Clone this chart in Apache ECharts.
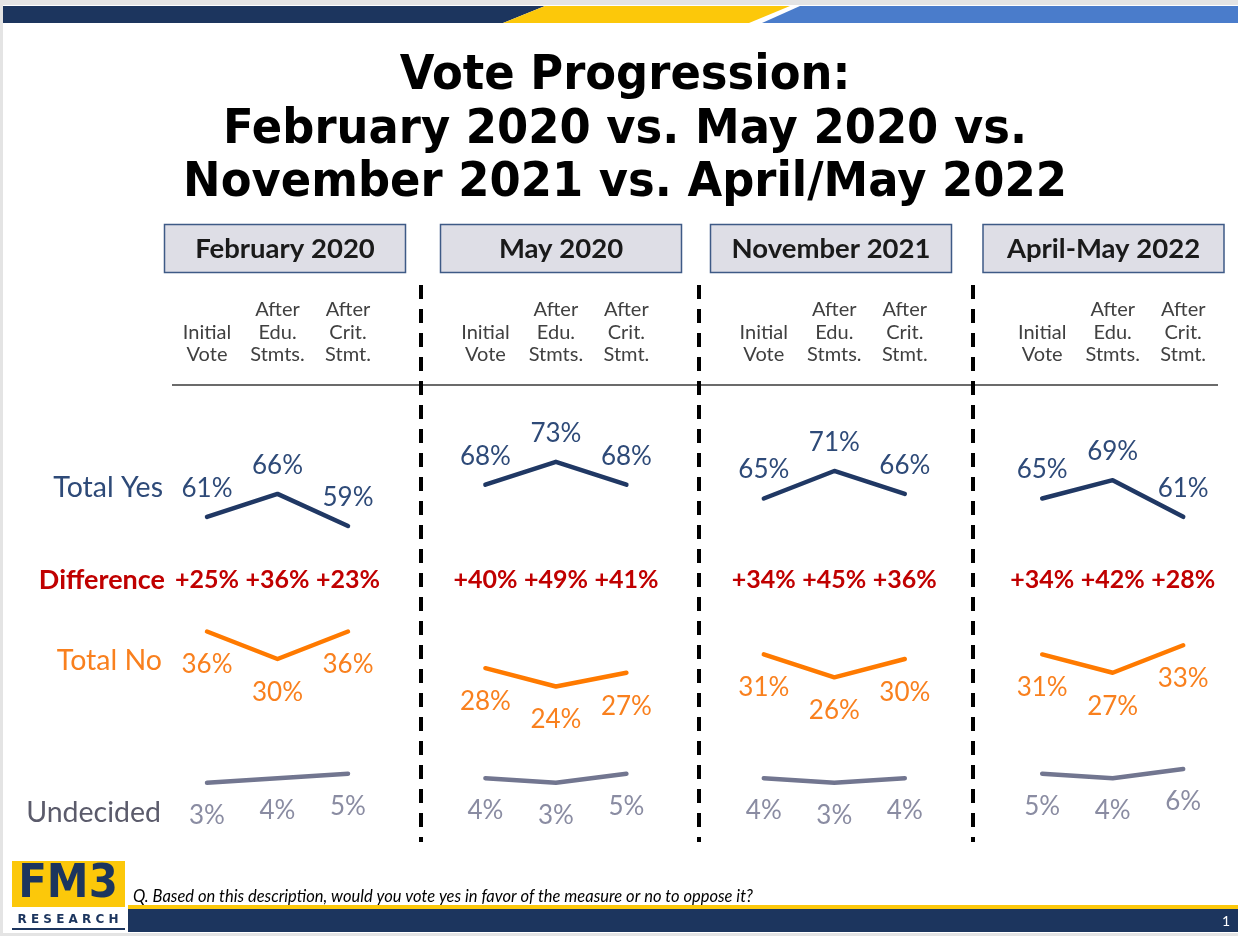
<!DOCTYPE html>
<html><head><meta charset="utf-8">
<script src="https://cdn.jsdelivr.net/npm/echarts@6/dist/echarts.min.js"></script>
<style>html,body{margin:0;padding:0;background:#e4e4e4}#c{width:1238px;height:936px}</style>
</head><body><div id="c"></div>
<script>
// ---------------- DATA ----------------
const titleLines = ['Vote Progression:', 'February 2020 vs. May 2020 vs.', 'November 2021 vs. April/May 2022'];
const periods = ['February 2020', 'May 2020', 'November 2021', 'April-May 2022'];
const stages = ['Initial\nVote', 'After\nEdu.\nStmts.', 'After\nCrit.\nStmt.'];
const rowLabels = ['Total Yes', 'Difference', 'Total No', 'Undecided'];
const yesValues = [[61, 66, 59], [68, 73, 68], [65, 71, 66], [65, 69, 61]];
const noValues = [[36, 30, 36], [28, 24, 27], [31, 26, 30], [31, 27, 33]];
const undecidedValues = [[3, 4, 5], [4, 3, 5], [4, 3, 4], [5, 4, 6]];
const differenceValues = [[25, 36, 23], [40, 49, 41], [34, 45, 36], [34, 42, 28]];
const questionText = 'Q. Based on this description, would you vote yes in favor of the measure or no to oppose it?';
const pageNumber = '1';

// ---------------- LAYOUT / STYLE ----------------
const PANEL_X0 = 171.75, PANEL_STEP = 278.4, PANEL_W = 211.5;
const GRID_TOP = 429.7, GRID_H = 366.9;
const DIFF_Y = 580;
const NAVY = '#1C355E';
const YES_LINE = '#203864', YES_TEXT = '#2E4A78';
const NO_LINE = '#FF7A00', NO_TEXT = '#F9801E';
const UND_LINE = '#727690', UND_TEXT = '#8A8CA2';
const DIFF_COLOR = '#C00000';
const FONT = 'Lato';

const chart = echarts.init(document.getElementById('c'), null, {renderer: 'canvas'});

const grids = periods.map((p, i) => ({left: PANEL_X0 + PANEL_STEP * i, top: GRID_TOP, width: PANEL_W, height: GRID_H}));
const xAxes = periods.map((p, i) => ({
  type: 'category', gridIndex: i, data: stages, position: 'top', boundaryGap: true,
  axisLine: {show: false}, axisTick: {show: false}, splitLine: {show: false},
  axisLabel: {interval: 0, margin: 63.5, fontFamily: FONT, fontSize: 20, color: '#404040', lineHeight: 22.5, verticalAlign: 'bottom', align: 'center'}
}));
const yAxes = periods.map((p, i) => ({type: 'value', gridIndex: i, min: 0, max: 80, show: false}));

function lineSeries(i, data, lineColor, textColor, pos, dist) {
  return {
    type: 'line', xAxisIndex: i, yAxisIndex: i, data: data,
    symbol: 'circle', symbolSize: 1, itemStyle: {color: lineColor},
    lineStyle: {color: lineColor, width: 4.5, cap: 'round', join: 'round'},
    label: {show: true, position: pos, distance: dist, formatter: '{c}%', fontFamily: FONT, fontSize: 26, color: textColor},
    emphasis: {disabled: true}, silent: true, animation: false, z: 3
  };
}
const series = [];
periods.forEach((p, i) => {
  series.push(lineSeries(i, yesValues[i], YES_LINE, YES_TEXT, 'top', 15));
  series.push(lineSeries(i, noValues[i], NO_LINE, NO_TEXT, 'bottom', 20));
  series.push(lineSeries(i, undecidedValues[i], UND_LINE, UND_TEXT, 'bottom', 19));
  series.push({
    type: 'custom', xAxisIndex: i, yAxisIndex: i, silent: true, animation: false,
    data: differenceValues[i].map((d, j) => [j, d]),
    renderItem: (params, api) => {
      const x = api.coord([api.value(0), 0])[0];
      return {type: 'text', x: x, y: DIFF_Y, style: {text: '+' + api.value(1) + '%', fill: DIFF_COLOR, fontFamily: FONT, fontWeight: 'bold', fontSize: 25, align: 'center', verticalAlign: 'middle'}};
    }
  });
});

// ---------------- DECORATIONS ----------------
const g = [];
g.push({type: 'rect', z: -10, shape: {x: 3, y: 5, width: 1235, height: 928}, style: {fill: '#ffffff'}});
// top bar
g.push({type: 'polygon', z: -5, shape: {points: [[3, 6], [545, 6], [503, 23], [3, 23]]}, style: {fill: NAVY}});
g.push({type: 'polygon', z: -5, shape: {points: [[545, 6], [790, 6], [749, 23], [503, 23]]}, style: {fill: '#FCC80A'}});
g.push({type: 'polygon', z: -5, shape: {points: [[800, 6], [1238, 6], [1238, 23], [762, 23]]}, style: {fill: '#4A7CCB'}});
// title
const titleY = [77, 131, 184];
titleLines.forEach((t, k) => g.push({type: 'text', x: 625, y: titleY[k], scaleX: 0.935, style: {text: t, fill: '#000', fontFamily: 'DejaVu Sans', fontWeight: 'bold', fontSize: 48, align: 'center', verticalAlign: 'middle'}}));
// period header boxes
const boxCx = [285, 561, 831, 1103.5];
periods.forEach((p, i) => {
  g.push({type: 'rect', shape: {x: boxCx[i] - 120.5, y: 224.5, width: 241, height: 48}, style: {fill: '#DEDEE6', stroke: '#3E5A86', lineWidth: 1.5}});
  g.push({type: 'text', x: boxCx[i], y: 249, style: {text: p, fill: '#1a1a1a', fontFamily: FONT, fontWeight: 'bold', fontSize: 27.5, align: 'center', verticalAlign: 'middle'}});
});
// rule under stage headers
g.push({type: 'line', shape: {x1: 172, y1: 385, x2: 1218, y2: 385}, style: {stroke: '#3a3a3a', lineWidth: 1.5}});
// dashed separators
[421, 699, 973].forEach(x => g.push({type: 'line', shape: {x1: x, y1: 285, x2: x, y2: 842}, style: {stroke: '#000', lineWidth: 4, lineDash: [14, 10]}}));
// row labels
const rowStyle = [
  {y: 488, x: 163, color: YES_TEXT, bold: false, size: 28.5},
  {y: 580, x: 165, color: DIFF_COLOR, bold: true, size: 27},
  {y: 661, x: 162, color: NO_TEXT, bold: false, size: 28.5},
  {y: 813, x: 161, color: '#5B5B6B', bold: false, size: 28.5}
];
rowLabels.forEach((t, k) => g.push({type: 'text', x: rowStyle[k].x, y: rowStyle[k].y, style: {text: t, fill: rowStyle[k].color, fontFamily: FONT, fontWeight: rowStyle[k].bold ? 'bold' : 'normal', fontSize: rowStyle[k].size, align: 'right', verticalAlign: 'middle'}}));
// footer
g.push({type: 'rect', shape: {x: 128, y: 905, width: 1110, height: 4}, style: {fill: '#FCC80A'}});
g.push({type: 'rect', shape: {x: 128, y: 909, width: 1110, height: 23}, style: {fill: NAVY}});
g.push({type: 'text', x: 1226, y: 921, style: {text: pageNumber, fill: '#fff', fontFamily: FONT, fontSize: 14, align: 'center', verticalAlign: 'middle'}});
g.push({type: 'text', x: 133, y: 897, style: {text: questionText, fill: '#000', fontFamily: FONT, fontStyle: 'italic', fontSize: 16.5, align: 'left', verticalAlign: 'middle'}});
// logo
g.push({type: 'rect', shape: {x: 12, y: 861, width: 113, height: 46}, style: {fill: '#FCC80A'}});
g.push({type: 'text', x: 68, y: 885, scaleY: 1.1, style: {text: 'FM3', fill: NAVY, fontFamily: 'DejaVu Sans', fontWeight: 'bold', fontSize: 42, align: 'center', verticalAlign: 'middle'}});
g.push({type: 'text', x: 68, y: 920, style: {text: 'R E S E A R C H', fill: NAVY, fontFamily: 'DejaVu Sans', fontWeight: 'bold', fontSize: 12, align: 'center', verticalAlign: 'middle'}});
g.push({type: 'rect', shape: {x: 12, y: 928, width: 113, height: 2}, style: {fill: NAVY}});

chart.setOption({
  backgroundColor: '#e4e4e4',
  animation: false,
  grid: grids, xAxis: xAxes, yAxis: yAxes, series: series,
  graphic: {elements: g}
});
</script></body></html>
